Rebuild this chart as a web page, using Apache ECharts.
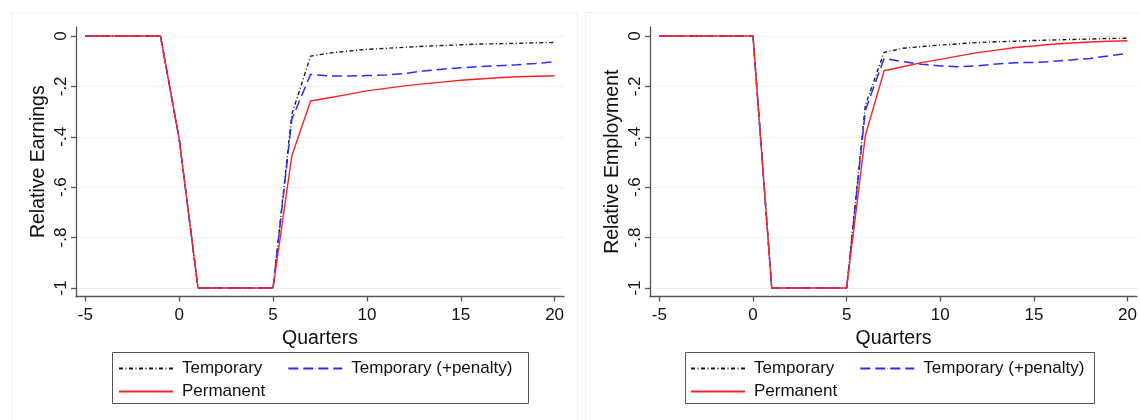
<!DOCTYPE html>
<html><head><meta charset="utf-8">
<script src="https://cdn.jsdelivr.net/npm/echarts@6/dist/echarts.min.js"></script>
<style>html,body{margin:0;padding:0;background:#fff}#c{width:1140px;height:420px}</style>
</head><body><div id="c"></div>
<script>
const quarters = [-5,-4,-3,-2,-1,0,1,2,3,4,5,6,7,8,9,10,11,12,13,14,15,16,17,18,19,20];
const xTicks = [-5,0,5,10,15,20];
const yTicks = [-1,-0.8,-0.6,-0.4,-0.2,0];
const seriesNames = ['Temporary','Temporary (+penalty)','Permanent'];
const panelTitles = ['Relative Earnings','Relative Employment'];
const xTitle = 'Quarters';

const earnTemp = [0,0,0,0,0,-0.41,-1,-1,-1,-1,-1,-0.31,-0.08,-0.068,-0.06,-0.053,-0.049,-0.045,-0.041,-0.038,-0.035,-0.032,-0.031,-0.029,-0.027,-0.026];
const earnPen  = [0,0,0,0,0,-0.41,-1,-1,-1,-1,-1,-0.33,-0.152,-0.159,-0.159,-0.157,-0.155,-0.149,-0.139,-0.132,-0.126,-0.122,-0.118,-0.114,-0.109,-0.102];
const earnPerm = [0,0,0,0,0,-0.41,-1,-1,-1,-1,-1,-0.475,-0.258,-0.245,-0.232,-0.218,-0.208,-0.198,-0.19,-0.183,-0.176,-0.171,-0.166,-0.162,-0.16,-0.158];

const empTemp = [0,0,0,0,0,0,-1,-1,-1,-1,-1,-0.275,-0.065,-0.049,-0.042,-0.036,-0.031,-0.026,-0.023,-0.021,-0.018,-0.016,-0.014,-0.012,-0.01,-0.009];
const empPen  = [0,0,0,0,0,0,-1,-1,-1,-1,-1,-0.295,-0.089,-0.102,-0.112,-0.119,-0.122,-0.118,-0.111,-0.106,-0.105,-0.101,-0.095,-0.089,-0.079,-0.069];
const empPerm = [0,0,0,0,0,0,-1,-1,-1,-1,-1,-0.395,-0.138,-0.122,-0.106,-0.093,-0.079,-0.066,-0.056,-0.046,-0.04,-0.033,-0.028,-0.024,-0.021,-0.019];

const FONT = '"Liberation Sans", Arial, sans-serif';
const TXT = '#111';
const AXIS = '#555';
const GRIDC = '#eaf1f3';

function pairs(arr){ return quarters.map((q,i)=>[q, arr[i]]); }
function fmtY(v){
  if (Math.abs(v) < 1e-9) return '0';
  if (Math.abs(v + 1) < 1e-9) return '-1';
  let s = Math.abs(v).toFixed(1).replace(/^0/, '');
  return (v < 0 ? '-' : '') + s;
}

const styles = [
  {color:'#1a1a1a', width:1.4, type:[4,2.5,1,2.5]},
  {color:'#2b2bff', width:1.5, type:[10,5]},
  {color:'#ff2222', width:1.4, type:'solid'}
];

function mkX(gi){
  return {
    type:'value', gridIndex:gi, min:-5.5, max:20.5,
    name: xTitle, nameLocation:'middle', nameGap:26,
    nameTextStyle:{fontFamily:FONT, fontSize:19.5, color:TXT},
    axisLine:{show:true, onZero:false, lineStyle:{color:AXIS, width:1.3}},
    axisTick:{show:true, inside:false, length:5, customValues:xTicks, lineStyle:{color:AXIS, width:1.3}},
    axisLabel:{customValues:xTicks, margin:10, fontFamily:FONT, fontSize:17, color:TXT},
    splitLine:{show:false}
  };
}
function mkY(gi, name){
  return {
    type:'value', gridIndex:gi, min:-1.034, max:0.036,
    name: name, nameLocation:'middle', nameGap:27, nameRotate:90,
    nameTextStyle:{fontFamily:FONT, fontSize:19.5, color:TXT},
    axisLine:{show:true, onZero:false, lineStyle:{color:AXIS, width:1.3}},
    axisTick:{show:true, inside:false, length:5, customValues:yTicks, lineStyle:{color:AXIS, width:1.3}},
    axisLabel:{customValues:yTicks, rotate:90, margin:6, fontFamily:FONT, fontSize:17, color:TXT, formatter:fmtY},
    splitLine:{show:true, lineStyle:{color:GRIDC, width:1.2}}
  };
}

const data = [[earnTemp, earnPen, earnPerm],[empTemp, empPen, empPerm]];
const series = [];
for (let g=0; g<2; g++){
  for (let k=0; k<3; k++){
    series.push({
      type:'line', name:seriesNames[k], xAxisIndex:g, yAxisIndex:g,
      data:pairs(data[g][k]), symbol:'none', showSymbol:false, smooth:false,
      lineStyle:{color:styles[k].color, width:styles[k].width, type:styles[k].type},
      itemStyle:{color:styles[k].color},
      z: 2+k, animation:false
    });
  }
}

function mkLegend(left, top, idxs){
  return {
    left:left, top:top, orient:'horizontal', padding:0, itemGap:25,
    itemWidth:54, itemHeight:1, selectedMode:false,
    data: idxs.map(k => seriesNames[k]),
    textStyle:{fontFamily:FONT, fontSize:17, color:TXT, padding:[0,0,0,4]}
  };
}

const chart = echarts.init(document.getElementById('c'), null, {renderer:'canvas'});
chart.setOption({
  backgroundColor:'#fff',
  animation:false,
  grid:[
    {left:76, top:26.9, width:488, height:269.6},
    {left:650, top:26.9, width:487, height:269.6}
  ],
  xAxis:[mkX(0), mkX(1)],
  yAxis:[mkY(0, panelTitles[0]), mkY(1, panelTitles[1])],
  legend:[
    mkLegend(118, 360, [0, 1]),
    mkLegend(118, 383, [2]),
    mkLegend(690, 360, [0, 1]),
    mkLegend(690, 383, [2])
  ],
  graphic:[
    {type:'rect', silent:true, z:-10, shape:{x:11.5, y:12.5, width:566, height:420}, style:{fill:null, stroke:'#efefef', lineWidth:1}},
    {type:'rect', silent:true, z:-10, shape:{x:585.5, y:12.5, width:570, height:420}, style:{fill:null, stroke:'#efefef', lineWidth:1}},
    {type:'rect', silent:true, shape:{x:112.5, y:352.5, width:416, height:51}, style:{fill:null, stroke:'#555', lineWidth:1}},
    {type:'rect', silent:true, shape:{x:685.5, y:352.5, width:409, height:51}, style:{fill:null, stroke:'#555', lineWidth:1}}
  ],
  series: series
});
</script>
</body></html>
